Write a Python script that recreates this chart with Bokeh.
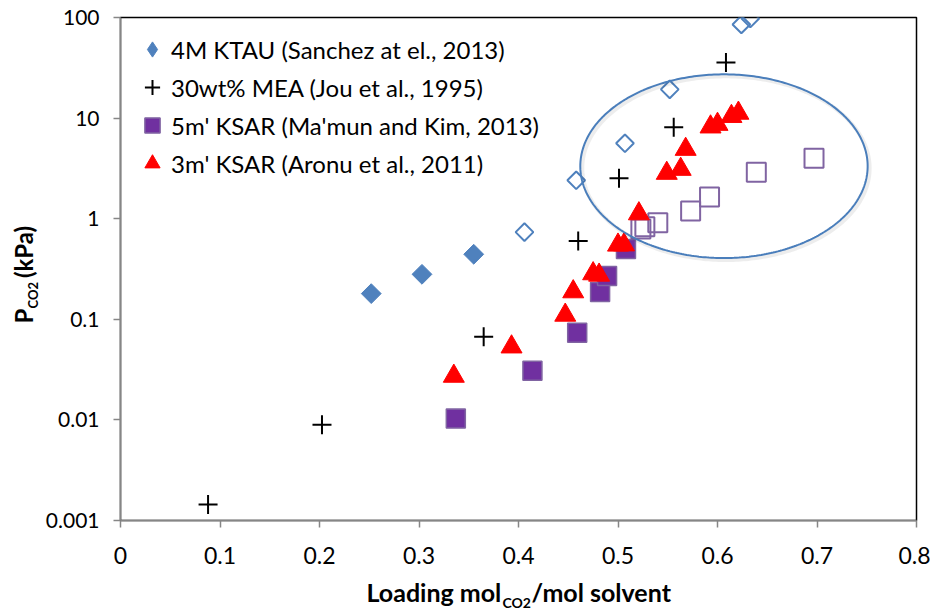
import numpy as np
from bokeh.plotting import figure
from bokeh.layouts import row, column
from bokeh.models import (Range1d, Legend, LegendItem, CustomJSTickFormatter, FixedTicker)
from bokeh.core.properties import value
from bokeh.embed import file_html
from bokeh.resources import INLINE

# ---------------- data ----------------
ktau_x = [0.252, 0.303, 0.355]
ktau_y = [0.18, 0.28, 0.443]
ktau_open_x = [0.406, 0.458, 0.507, 0.552, 0.624, 0.633]
ktau_open_y = [0.736, 2.41, 5.62, 19.3, 85.3, 97.7]

mea_x = [0.088, 0.2025, 0.365, 0.460, 0.501, 0.556, 0.6085]
mea_y = [0.00144, 0.00896, 0.0669, 0.60, 2.53, 8.1, 35.8]

ksar5_x = [0.337, 0.414, 0.459, 0.482, 0.489, 0.508]
ksar5_y = [0.0103, 0.0308, 0.0733, 0.187, 0.27, 0.50]
ksar5_open_x = [0.523, 0.527, 0.540, 0.573, 0.592, 0.639, 0.697]
ksar5_open_y = [0.79, 0.83, 0.91, 1.19, 1.64, 2.9, 3.99]

ksar3_x = [0.335, 0.393, 0.447, 0.455, 0.475, 0.481, 0.500, 0.506, 0.521,
           0.549, 0.563, 0.568, 0.593, 0.600, 0.614, 0.621]
ksar3_y = [0.0272, 0.0532, 0.110, 0.188, 0.284, 0.275, 0.547, 0.55, 1.12,
           2.83, 3.10, 4.90, 8.18, 8.68, 10.4, 11.2]

legend_labels = ["4M KTAU (Sanchez at el., 2013)",
                 "30wt% MEA (Jou et al., 1995)",
                 "5m' KSAR (Ma'mun and Kim, 2013)",
                 "3m' KSAR (Aronu et al., 2011)"]

x_ticks = [0.0, 0.1, 0.2, 0.3, 0.4, 0.5, 0.6, 0.7, 0.8]
x_tick_labels = ["0", "0.1", "0.2", "0.3", "0.4", "0.5", "0.6", "0.7", "0.8"]
y_ticks = [0.001, 0.01, 0.1, 1, 10, 100]
y_tick_labels = ["0.001", "0.01", "0.1", "1", "10", "100"]

x_title_parts = ["Loading mol", "CO2", "/mol solvent"]
y_title_parts = ["P", "CO2", "(kPa)"]

# highlighted region (ellipse): centre x, centre log10(y), half-width, half-height (decades)
ell_cx, ell_cly, ell_rx, ell_rly = 0.6065, 0.522, 0.1444, 0.913

# ---------------- styles / layout ----------------
BLUE = "#4F81BD"
PURPLE = "#7030A0"
PURPLE_EDGE = "#8064A2"
RED = "#FF0000"
AXIS_GRAY = "#868686"
FONT = "Lato"

W, H = 930, 610
YT_W = 42            # width of the strip holding the y title
XT_H = 34            # height of the strip holding the x title
MAIN_W, MAIN_H = W - YT_W, H - XT_H
FRAME_LEFT = 118                    # pixel column of the plot frame's left edge
FRAME_TOP, FRAME_BOTTOM = 17, 520   # pixel rows of the plot frame

p = figure(width=MAIN_W, height=MAIN_H, output_backend="svg", toolbar_location=None, tools="",
           x_range=Range1d(0, 0.8), y_range=Range1d(0.001, 100), y_axis_type="log",
           min_border_left=FRAME_LEFT - YT_W, min_border_right=14, min_border_top=FRAME_TOP,
           min_border_bottom=MAIN_H - FRAME_BOTTOM,
           background_fill_color="white", border_fill_color="white")
p.outline_line_color = "black"
p.outline_line_width = 1.5
p.xgrid.visible = False
p.ygrid.visible = False

x_fmt = CustomJSTickFormatter(args=dict(tv=x_ticks, tl=x_tick_labels), code="""
let b = 0, d = Infinity;
for (let i = 0; i < tv.length; i++) { const e = Math.abs(tv[i] - tick); if (e < d) { d = e; b = i; } }
return tl[b];
""")
y_fmt = CustomJSTickFormatter(args=dict(tv=y_ticks, tl=y_tick_labels), code="""
let b = 0, d = Infinity;
for (let i = 0; i < tv.length; i++) { const e = Math.abs(Math.log10(tv[i]) - Math.log10(tick)); if (e < d) { d = e; b = i; } }
return tl[b];
""")
p.xaxis.ticker = FixedTicker(ticks=x_ticks)
p.yaxis.ticker = FixedTicker(ticks=y_ticks)
p.xaxis.formatter = x_fmt
p.yaxis.formatter = y_fmt
for ax in (p.xaxis, p.yaxis):
    ax.axis_line_color = AXIS_GRAY
    ax.axis_line_width = 1.5
    ax.major_tick_line_color = AXIS_GRAY
    ax.major_tick_line_width = 1.5
    ax.major_tick_out = 7
    ax.major_tick_in = 0
    ax.minor_tick_line_color = None
    ax.major_label_text_font = FONT
    ax.major_label_text_color = "#000000"
p.xaxis.major_label_text_font_size = "23px"
p.yaxis.major_label_text_font_size = "21px"
p.xaxis.major_label_standoff = 19
p.yaxis.major_label_standoff = 14

# ---------------- series ----------------
# (small diamond underneath the real markers, used only for the legend symbol)
r_ktau_leg = p.scatter(ktau_x, ktau_y, marker="diamond", size=8, fill_color=BLUE, line_color=BLUE)
r_ktau = p.scatter(ktau_x, ktau_y, marker="square", angle=np.pi / 4, size=14,
                   fill_color=BLUE, line_color=BLUE)
p.scatter(ktau_open_x, ktau_open_y, marker="square", angle=np.pi / 4, size=12.5,
          fill_color=None, line_color=BLUE, line_width=2)
r_mea = p.scatter(mea_x, mea_y, marker="cross", size=19, line_color="black", line_width=2)
r_k5 = p.scatter(ksar5_x, ksar5_y, marker="square", size=19, fill_color=PURPLE,
                 line_color=PURPLE_EDGE, line_width=1.5)
p.scatter(ksar5_open_x, ksar5_open_y, marker="square", size=19, fill_color=None,
          line_color=PURPLE_EDGE, line_width=2)
r_k3 = p.scatter(ksar3_x, ksar3_y, marker="triangle", size=21, fill_color=RED, line_color=RED)

# ---------------- ellipse highlight ----------------
t = np.linspace(0, 2 * np.pi, 361)
ex = ell_cx + ell_rx * np.cos(t)
ely = ell_cly + ell_rly * np.sin(t)
sh_dx, sh_dly = 2.0 / 997.5, -2.0 / 100.8
p.line(ex + sh_dx, 10 ** (ely + sh_dly), line_color="#000000", line_alpha=0.07, line_width=4)
p.line(ex, 10 ** ely, line_color="#4A7EBB", line_width=2)

# ---------------- legend ----------------
legend = Legend(items=[LegendItem(label=legend_labels[0], renderers=[r_ktau_leg]),
                       LegendItem(label=legend_labels[1], renderers=[r_mea]),
                       LegendItem(label=legend_labels[2], renderers=[r_k5]),
                       LegendItem(label=legend_labels[3], renderers=[r_k3])],
                location="top_left", border_line_color=None, background_fill_alpha=0,
                label_text_font=FONT, label_text_font_size="24px", label_text_color="#000000",
                glyph_width=38, glyph_height=38, label_height=38, spacing=0,
                padding=0, margin=13, label_standoff=0)
p.add_layout(legend)

# ---------------- axis titles (separate strips, real text) ----------------
def strip(w, h, yr):
    f = figure(width=w, height=h, output_backend="svg", toolbar_location=None, tools="",
               title=None, x_range=Range1d(0, w), y_range=Range1d(0, yr),
               x_axis_location=None, y_axis_location=None,
               min_border=0, min_border_left=0, min_border_right=0,
               min_border_top=0, min_border_bottom=0,
               background_fill_color="white", border_fill_color="white")
    f.outline_line_color = None
    f.xgrid.visible = False
    f.ygrid.visible = False
    return f

# y-title strip: its frame is aligned with the main frame (rows FRAME_TOP..FRAME_BOTTOM)
yt = strip(YT_W, MAIN_H, FRAME_BOTTOM - FRAME_TOP)
yt.text(x=[22.6, 32.4, 22.6],
        y=[FRAME_BOTTOM - 323, FRAME_BOTTOM - 308, FRAME_BOTTOM - 277.6],
        text=y_title_parts, angle=np.pi / 2, text_font=value(FONT), text_font_style="bold",
        text_font_size=["24px", "13px", "24px"], text_color="#000000",
        text_align="left", text_baseline="alphabetic")

# x-title strip
xt = strip(W, XT_H, XT_H)
xt.text(x=[366, 502, 531], y=[H - 591, H - 601.5, H - 591], text=x_title_parts,
        text_font=value(FONT), text_font_style="bold",
        text_font_size=["25px", "14px", "25px"], text_color="#000000",
        text_align="left", text_baseline="alphabetic")

layout = column(row(yt, p, spacing=0), xt, spacing=0)

open("out.html", "w").write(file_html(layout, INLINE))
